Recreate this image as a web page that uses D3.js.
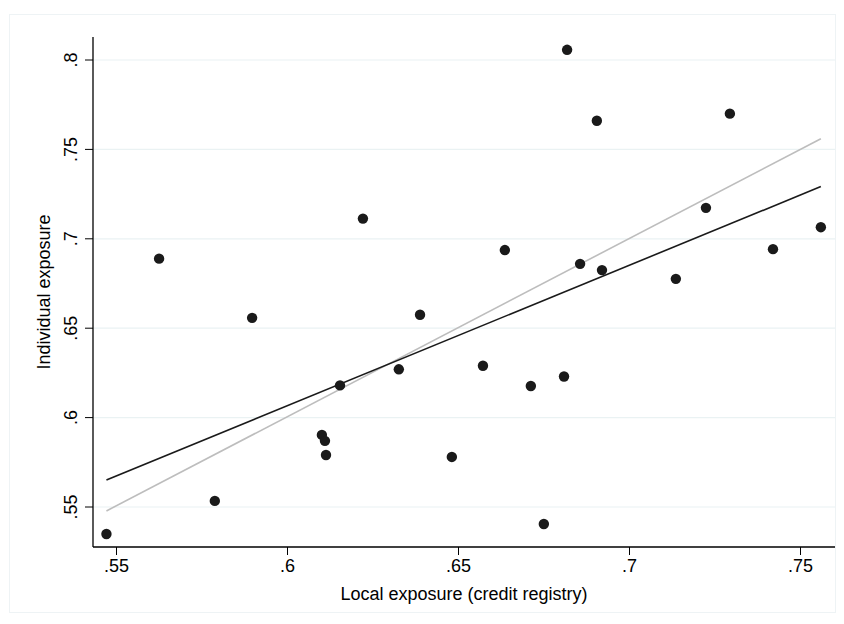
<!DOCTYPE html>
<html><head><meta charset="utf-8">
<script src="https://cdn.jsdelivr.net/npm/d3@7"></script>
<style>body{margin:0;background:#fff}text{font-family:Arial,"Liberation Sans",sans-serif;fill:#000}</style>
</head><body>
<script>
var xs = [.5472,.5626,.5789,.5898,.6102,.6111,.6114,.6155,.6222,.6327,.6389,.6482,.6573,.6637,.6713,.6751,.6810,.6819,.6857,.6906,.6921,.7137,.7225,.7295,.7421,.7561];
var ys = [.5349,.6889,.5534,.6558,.5903,.5870,.5791,.6180,.7113,.6270,.6575,.5780,.6290,.6937,.6177,.5405,.6230,.8057,.6860,.7660,.6825,.6776,.7173,.7700,.6942,.7065];
var blackFit = [[.5472,.5651],[.7561,.7292]];
var grayFit = [[.5472,.5478],[.7561,.7560]];
var xTicks = [.55,.6,.65,.7,.75];
var yTicks = [.55,.6,.65,.7,.75,.8];
var fmt = function(d){ return String(+d.toFixed(2)).replace(/^0/, ''); };

var width = 844, height = 624;
var svg = d3.select("body").append("svg").attr("width", width).attr("height", height);
svg.append("rect").attr("x", 9.5).attr("y", 14.5).attr("width", 826).attr("height", 598)
    .attr("fill", "#fff").attr("stroke", "#eef3f5");

var x = d3.scaleLinear().domain([.55, .75]).range([116, 800]);
var y = d3.scaleLinear().domain([.55, .8]).range([507, 60]);

svg.append("g").selectAll("line").data(yTicks).join("line")
    .attr("x1", 93).attr("x2", 835).attr("y1", y).attr("y2", y)
    .attr("stroke", "#eaf2f3").attr("stroke-width", 1.2);

svg.append("g").attr("transform", "translate(0,547)")
    .call(d3.axisBottom(x).tickValues(xTicks).tickFormat(fmt).tickSize(8).tickPadding(4))
    .call(function(g){
        g.select(".domain").attr("d", "M93,0H835").attr("stroke-width", 1.3);
        g.selectAll("text").attr("font-size", 18);
    });

var ya = svg.append("g").attr("transform", "translate(93,0)")
    .call(d3.axisLeft(y).tickValues(yTicks).tickFormat(fmt).tickSize(8).tickPadding(4))
    .call(function(g){
        g.select(".domain").attr("d", "M0,37V547").attr("stroke-width", 1.3);
        g.selectAll("text").attr("font-size", 18)
            .attr("transform", function(d){ return "rotate(-90," + (-22) + "," + y(d) + ")"; })
            .attr("x", -22).attr("y", function(d){ return y(d); })
            .attr("dy", "0.35em").attr("text-anchor", "middle");
    });
ya.selectAll(".tick").attr("transform", null);
ya.selectAll(".tick line").attr("y1", function(d){ return y(d); }).attr("y2", function(d){ return y(d); });

var line = d3.line().x(function(d){ return x(d[0]); }).y(function(d){ return y(d[1]); });
svg.append("path").attr("d", line(grayFit)).attr("stroke", "#bdbdbd").attr("stroke-width", 1.6).attr("fill", "none");
svg.append("path").attr("d", line(blackFit)).attr("stroke", "#1a1a1a").attr("stroke-width", 1.6).attr("fill", "none");

svg.append("g").selectAll("circle").data(xs).join("circle")
    .attr("cx", function(d){ return x(d); })
    .attr("cy", function(d, i){ return y(ys[i]); })
    .attr("r", 5.2).attr("fill", "#1a1a1a");

svg.append("text").attr("x", 464).attr("y", 600).attr("text-anchor", "middle").attr("font-size", 18)
    .text("Local exposure (credit registry)");
svg.append("text").attr("transform", "translate(50,292) rotate(-90)").attr("text-anchor", "middle").attr("font-size", 18)
    .text("Individual exposure");
</script>
</body></html>
